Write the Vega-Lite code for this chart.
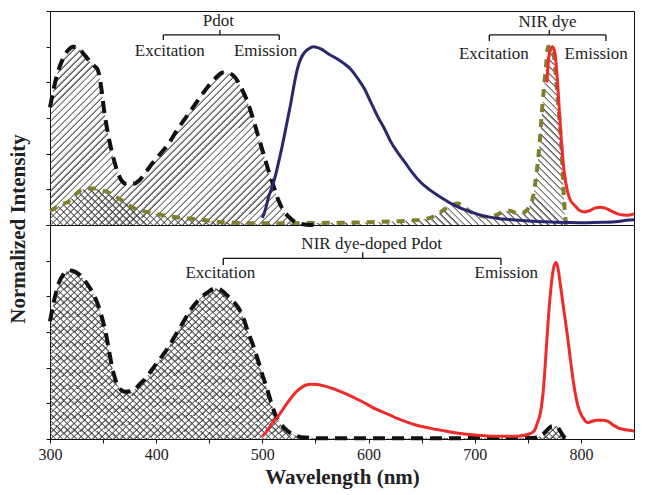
{
  "$schema": "https://vega.github.io/schema/vega-lite/v6.json",
  "padding": {"left": 7, "top": 10, "right": 5, "bottom": 5},
  "config": {
    "view": {"stroke": "#111", "strokeWidth": 1},
    "font": "Liberation Serif",
    "axis": {"domainColor": "#111", "tickColor": "#111", "labelColor": "#222", "labelFont": "Liberation Serif", "labelFontSize": 16, "titleFont": "Liberation Serif", "titleColor": "#222", "grid": false}
  },
  "data": {"values": [
    {"p":"top","s":"pdot_ex","wl":300,"v":0.66},{"p":"top","s":"pdot_ex","wl":303,"v":0.75},{"p":"top","s":"pdot_ex","wl":307,"v":0.85},{"p":"top","s":"pdot_ex","wl":312,"v":0.93},{"p":"top","s":"pdot_ex","wl":317,"v":0.98},{"p":"top","s":"pdot_ex","wl":322,"v":1.0},{"p":"top","s":"pdot_ex","wl":327,"v":0.99},{"p":"top","s":"pdot_ex","wl":333,"v":0.95},{"p":"top","s":"pdot_ex","wl":340,"v":0.9},{"p":"top","s":"pdot_ex","wl":345,"v":0.87},{"p":"top","s":"pdot_ex","wl":348,"v":0.78},{"p":"top","s":"pdot_ex","wl":351,"v":0.64},{"p":"top","s":"pdot_ex","wl":355,"v":0.5},{"p":"top","s":"pdot_ex","wl":360,"v":0.37},{"p":"top","s":"pdot_ex","wl":364,"v":0.29},{"p":"top","s":"pdot_ex","wl":368,"v":0.245},{"p":"top","s":"pdot_ex","wl":373,"v":0.228},{"p":"top","s":"pdot_ex","wl":378,"v":0.23},{"p":"top","s":"pdot_ex","wl":384,"v":0.25},{"p":"top","s":"pdot_ex","wl":390,"v":0.295},{"p":"top","s":"pdot_ex","wl":397,"v":0.35},{"p":"top","s":"pdot_ex","wl":404,"v":0.4},{"p":"top","s":"pdot_ex","wl":411,"v":0.45},{"p":"top","s":"pdot_ex","wl":420,"v":0.535},{"p":"top","s":"pdot_ex","wl":430,"v":0.62},{"p":"top","s":"pdot_ex","wl":440,"v":0.705},{"p":"top","s":"pdot_ex","wl":448,"v":0.77},{"p":"top","s":"pdot_ex","wl":456,"v":0.825},{"p":"top","s":"pdot_ex","wl":463,"v":0.855},{"p":"top","s":"pdot_ex","wl":468,"v":0.852},{"p":"top","s":"pdot_ex","wl":474,"v":0.83},{"p":"top","s":"pdot_ex","wl":480,"v":0.77},{"p":"top","s":"pdot_ex","wl":486,"v":0.69},{"p":"top","s":"pdot_ex","wl":491,"v":0.6},{"p":"top","s":"pdot_ex","wl":496,"v":0.5},{"p":"top","s":"pdot_ex","wl":501,"v":0.4},{"p":"top","s":"pdot_ex","wl":506,"v":0.3},{"p":"top","s":"pdot_ex","wl":511,"v":0.21},{"p":"top","s":"pdot_ex","wl":515,"v":0.14},{"p":"top","s":"pdot_ex","wl":520,"v":0.08},{"p":"top","s":"pdot_ex","wl":525,"v":0.045},{"p":"top","s":"pdot_ex","wl":530,"v":0.02},{"p":"top","s":"pdot_ex","wl":537,"v":0.006},{"p":"top","s":"pdot_ex","wl":545,"v":0},{"p":"top","s":"pdot_ex","wl":555,"v":0},{"p":"top","s":"pdot_ex","wl":786,"v":0},
    {"p":"top","s":"nir_ex","wl":300,"v":0.08},{"p":"top","s":"nir_ex","wl":305,"v":0.095},{"p":"top","s":"nir_ex","wl":310,"v":0.115},{"p":"top","s":"nir_ex","wl":317,"v":0.13},{"p":"top","s":"nir_ex","wl":323,"v":0.165},{"p":"top","s":"nir_ex","wl":329,"v":0.195},{"p":"top","s":"nir_ex","wl":336,"v":0.205},{"p":"top","s":"nir_ex","wl":342,"v":0.205},{"p":"top","s":"nir_ex","wl":348,"v":0.195},{"p":"top","s":"nir_ex","wl":354,"v":0.185},{"p":"top","s":"nir_ex","wl":360,"v":0.165},{"p":"top","s":"nir_ex","wl":367,"v":0.14},{"p":"top","s":"nir_ex","wl":373,"v":0.115},{"p":"top","s":"nir_ex","wl":379,"v":0.095},{"p":"top","s":"nir_ex","wl":388,"v":0.078},{"p":"top","s":"nir_ex","wl":398,"v":0.064},{"p":"top","s":"nir_ex","wl":407,"v":0.054},{"p":"top","s":"nir_ex","wl":417,"v":0.045},{"p":"top","s":"nir_ex","wl":427,"v":0.038},{"p":"top","s":"nir_ex","wl":436,"v":0.034},{"p":"top","s":"nir_ex","wl":445,"v":0.028},{"p":"top","s":"nir_ex","wl":455,"v":0.02},{"p":"top","s":"nir_ex","wl":470,"v":0.014},{"p":"top","s":"nir_ex","wl":490,"v":0.01},{"p":"top","s":"nir_ex","wl":520,"v":0.01},{"p":"top","s":"nir_ex","wl":560,"v":0.012},{"p":"top","s":"nir_ex","wl":600,"v":0.015},{"p":"top","s":"nir_ex","wl":620,"v":0.02},{"p":"top","s":"nir_ex","wl":640,"v":0.025},{"p":"top","s":"nir_ex","wl":655,"v":0.035},{"p":"top","s":"nir_ex","wl":665,"v":0.06},{"p":"top","s":"nir_ex","wl":672,"v":0.09},{"p":"top","s":"nir_ex","wl":678,"v":0.11},{"p":"top","s":"nir_ex","wl":684,"v":0.12},{"p":"top","s":"nir_ex","wl":690,"v":0.1},{"p":"top","s":"nir_ex","wl":696,"v":0.075},{"p":"top","s":"nir_ex","wl":704,"v":0.055},{"p":"top","s":"nir_ex","wl":712,"v":0.045},{"p":"top","s":"nir_ex","wl":720,"v":0.055},{"p":"top","s":"nir_ex","wl":727,"v":0.075},{"p":"top","s":"nir_ex","wl":733,"v":0.08},{"p":"top","s":"nir_ex","wl":740,"v":0.065},{"p":"top","s":"nir_ex","wl":746,"v":0.07},{"p":"top","s":"nir_ex","wl":751,"v":0.1},{"p":"top","s":"nir_ex","wl":755,"v":0.16},{"p":"top","s":"nir_ex","wl":758,"v":0.28},{"p":"top","s":"nir_ex","wl":761,"v":0.45},{"p":"top","s":"nir_ex","wl":764,"v":0.69},{"p":"top","s":"nir_ex","wl":767,"v":0.88},{"p":"top","s":"nir_ex","wl":769,"v":1.0},{"p":"top","s":"nir_ex","wl":771,"v":1.0},{"p":"top","s":"nir_ex","wl":773.5,"v":0.99},{"p":"top","s":"nir_ex","wl":776,"v":0.86},{"p":"top","s":"nir_ex","wl":778,"v":0.72},{"p":"top","s":"nir_ex","wl":780,"v":0.58},{"p":"top","s":"nir_ex","wl":782,"v":0.4},{"p":"top","s":"nir_ex","wl":784,"v":0.15},{"p":"top","s":"nir_ex","wl":786,"v":0},
    {"p":"top","s":"pdot_em","wl":500,"v":0.04},{"p":"top","s":"pdot_em","wl":503,"v":0.09},{"p":"top","s":"pdot_em","wl":506,"v":0.16},{"p":"top","s":"pdot_em","wl":509,"v":0.21},{"p":"top","s":"pdot_em","wl":512,"v":0.27},{"p":"top","s":"pdot_em","wl":516,"v":0.37},{"p":"top","s":"pdot_em","wl":520,"v":0.48},{"p":"top","s":"pdot_em","wl":524,"v":0.6},{"p":"top","s":"pdot_em","wl":527,"v":0.69},{"p":"top","s":"pdot_em","wl":530,"v":0.79},{"p":"top","s":"pdot_em","wl":533,"v":0.875},{"p":"top","s":"pdot_em","wl":536,"v":0.93},{"p":"top","s":"pdot_em","wl":540,"v":0.97},{"p":"top","s":"pdot_em","wl":544,"v":0.99},{"p":"top","s":"pdot_em","wl":548,"v":1.0},{"p":"top","s":"pdot_em","wl":552,"v":0.995},{"p":"top","s":"pdot_em","wl":556,"v":0.985},{"p":"top","s":"pdot_em","wl":562,"v":0.96},{"p":"top","s":"pdot_em","wl":571,"v":0.93},{"p":"top","s":"pdot_em","wl":577,"v":0.905},{"p":"top","s":"pdot_em","wl":583,"v":0.875},{"p":"top","s":"pdot_em","wl":590,"v":0.82},{"p":"top","s":"pdot_em","wl":596,"v":0.765},{"p":"top","s":"pdot_em","wl":602,"v":0.69},{"p":"top","s":"pdot_em","wl":608,"v":0.615},{"p":"top","s":"pdot_em","wl":615,"v":0.54},{"p":"top","s":"pdot_em","wl":621,"v":0.466},{"p":"top","s":"pdot_em","wl":627,"v":0.41},{"p":"top","s":"pdot_em","wl":634,"v":0.354},{"p":"top","s":"pdot_em","wl":641,"v":0.295},{"p":"top","s":"pdot_em","wl":649,"v":0.24},{"p":"top","s":"pdot_em","wl":657,"v":0.2},{"p":"top","s":"pdot_em","wl":665,"v":0.167},{"p":"top","s":"pdot_em","wl":673,"v":0.137},{"p":"top","s":"pdot_em","wl":681,"v":0.11},{"p":"top","s":"pdot_em","wl":688,"v":0.092},{"p":"top","s":"pdot_em","wl":696,"v":0.074},{"p":"top","s":"pdot_em","wl":704,"v":0.058},{"p":"top","s":"pdot_em","wl":712,"v":0.047},{"p":"top","s":"pdot_em","wl":722,"v":0.037},{"p":"top","s":"pdot_em","wl":732,"v":0.031},{"p":"top","s":"pdot_em","wl":743,"v":0.026},{"p":"top","s":"pdot_em","wl":755,"v":0.021},{"p":"top","s":"pdot_em","wl":765,"v":0.018},{"p":"top","s":"pdot_em","wl":775,"v":0.016},{"p":"top","s":"pdot_em","wl":790,"v":0.014},{"p":"top","s":"pdot_em","wl":806,"v":0.013},{"p":"top","s":"pdot_em","wl":820,"v":0.015},{"p":"top","s":"pdot_em","wl":835,"v":0.02},{"p":"top","s":"pdot_em","wl":845,"v":0.028},{"p":"top","s":"pdot_em","wl":850,"v":0.03},
    {"p":"top","s":"nir_em","wl":768,"v":0.8},{"p":"top","s":"nir_em","wl":770,"v":0.95},{"p":"top","s":"nir_em","wl":773,"v":1.0},{"p":"top","s":"nir_em","wl":775,"v":0.98},{"p":"top","s":"nir_em","wl":777,"v":0.88},{"p":"top","s":"nir_em","wl":778,"v":0.8},{"p":"top","s":"nir_em","wl":781,"v":0.52},{"p":"top","s":"nir_em","wl":784,"v":0.31},{"p":"top","s":"nir_em","wl":787.5,"v":0.185},{"p":"top","s":"nir_em","wl":790,"v":0.14},{"p":"top","s":"nir_em","wl":794,"v":0.11},{"p":"top","s":"nir_em","wl":798,"v":0.085},{"p":"top","s":"nir_em","wl":803,"v":0.073},{"p":"top","s":"nir_em","wl":808,"v":0.08},{"p":"top","s":"nir_em","wl":813,"v":0.095},{"p":"top","s":"nir_em","wl":818,"v":0.1},{"p":"top","s":"nir_em","wl":823,"v":0.095},{"p":"top","s":"nir_em","wl":828,"v":0.08},{"p":"top","s":"nir_em","wl":834,"v":0.064},{"p":"top","s":"nir_em","wl":840,"v":0.056},{"p":"top","s":"nir_em","wl":845,"v":0.055},{"p":"top","s":"nir_em","wl":850,"v":0.062},
    {"p":"bottom","s":"doped_ex","wl":300,"v":0.66},{"p":"bottom","s":"doped_ex","wl":304,"v":0.78},{"p":"bottom","s":"doped_ex","wl":308,"v":0.87},{"p":"bottom","s":"doped_ex","wl":313,"v":0.925},{"p":"bottom","s":"doped_ex","wl":318,"v":0.945},{"p":"bottom","s":"doped_ex","wl":323,"v":0.94},{"p":"bottom","s":"doped_ex","wl":329,"v":0.915},{"p":"bottom","s":"doped_ex","wl":335,"v":0.87},{"p":"bottom","s":"doped_ex","wl":341,"v":0.81},{"p":"bottom","s":"doped_ex","wl":346,"v":0.74},{"p":"bottom","s":"doped_ex","wl":349,"v":0.68},{"p":"bottom","s":"doped_ex","wl":353,"v":0.58},{"p":"bottom","s":"doped_ex","wl":356,"v":0.48},{"p":"bottom","s":"doped_ex","wl":359,"v":0.39},{"p":"bottom","s":"doped_ex","wl":363,"v":0.31},{"p":"bottom","s":"doped_ex","wl":367,"v":0.275},{"p":"bottom","s":"doped_ex","wl":371,"v":0.265},{"p":"bottom","s":"doped_ex","wl":376,"v":0.268},{"p":"bottom","s":"doped_ex","wl":380,"v":0.28},{"p":"bottom","s":"doped_ex","wl":385,"v":0.31},{"p":"bottom","s":"doped_ex","wl":390,"v":0.34},{"p":"bottom","s":"doped_ex","wl":395,"v":0.38},{"p":"bottom","s":"doped_ex","wl":403,"v":0.445},{"p":"bottom","s":"doped_ex","wl":411,"v":0.51},{"p":"bottom","s":"doped_ex","wl":418,"v":0.58},{"p":"bottom","s":"doped_ex","wl":425,"v":0.65},{"p":"bottom","s":"doped_ex","wl":432,"v":0.72},{"p":"bottom","s":"doped_ex","wl":440,"v":0.78},{"p":"bottom","s":"doped_ex","wl":448,"v":0.82},{"p":"bottom","s":"doped_ex","wl":456,"v":0.845},{"p":"bottom","s":"doped_ex","wl":461,"v":0.835},{"p":"bottom","s":"doped_ex","wl":466,"v":0.81},{"p":"bottom","s":"doped_ex","wl":471,"v":0.78},{"p":"bottom","s":"doped_ex","wl":477,"v":0.74},{"p":"bottom","s":"doped_ex","wl":482,"v":0.68},{"p":"bottom","s":"doped_ex","wl":486,"v":0.61},{"p":"bottom","s":"doped_ex","wl":491,"v":0.53},{"p":"bottom","s":"doped_ex","wl":496,"v":0.44},{"p":"bottom","s":"doped_ex","wl":500,"v":0.36},{"p":"bottom","s":"doped_ex","wl":504,"v":0.29},{"p":"bottom","s":"doped_ex","wl":508,"v":0.21},{"p":"bottom","s":"doped_ex","wl":512,"v":0.14},{"p":"bottom","s":"doped_ex","wl":516,"v":0.095},{"p":"bottom","s":"doped_ex","wl":521,"v":0.06},{"p":"bottom","s":"doped_ex","wl":526,"v":0.035},{"p":"bottom","s":"doped_ex","wl":532,"v":0.018},{"p":"bottom","s":"doped_ex","wl":540,"v":0.008},{"p":"bottom","s":"doped_ex","wl":560,"v":0.004},{"p":"bottom","s":"doped_ex","wl":600,"v":0.004},{"p":"bottom","s":"doped_ex","wl":650,"v":0.004},{"p":"bottom","s":"doped_ex","wl":700,"v":0.005},{"p":"bottom","s":"doped_ex","wl":750,"v":0.005},{"p":"bottom","s":"doped_ex","wl":760,"v":0.01},{"p":"bottom","s":"doped_ex","wl":765,"v":0.03},{"p":"bottom","s":"doped_ex","wl":769,"v":0.055},{"p":"bottom","s":"doped_ex","wl":773,"v":0.072},{"p":"bottom","s":"doped_ex","wl":777,"v":0.07},{"p":"bottom","s":"doped_ex","wl":780,"v":0.05},{"p":"bottom","s":"doped_ex","wl":783,"v":0.02},{"p":"bottom","s":"doped_ex","wl":786,"v":0},
    {"p":"bottom","s":"doped_em","wl":500,"v":0.015},{"p":"bottom","s":"doped_em","wl":505,"v":0.05},{"p":"bottom","s":"doped_em","wl":510,"v":0.095},{"p":"bottom","s":"doped_em","wl":514,"v":0.12},{"p":"bottom","s":"doped_em","wl":518,"v":0.155},{"p":"bottom","s":"doped_em","wl":522,"v":0.19},{"p":"bottom","s":"doped_em","wl":527,"v":0.23},{"p":"bottom","s":"doped_em","wl":532,"v":0.265},{"p":"bottom","s":"doped_em","wl":536,"v":0.285},{"p":"bottom","s":"doped_em","wl":540,"v":0.3},{"p":"bottom","s":"doped_em","wl":546,"v":0.307},{"p":"bottom","s":"doped_em","wl":552,"v":0.305},{"p":"bottom","s":"doped_em","wl":558,"v":0.298},{"p":"bottom","s":"doped_em","wl":565,"v":0.285},{"p":"bottom","s":"doped_em","wl":572,"v":0.27},{"p":"bottom","s":"doped_em","wl":580,"v":0.25},{"p":"bottom","s":"doped_em","wl":587,"v":0.23},{"p":"bottom","s":"doped_em","wl":593,"v":0.213},{"p":"bottom","s":"doped_em","wl":600,"v":0.19},{"p":"bottom","s":"doped_em","wl":606,"v":0.17},{"p":"bottom","s":"doped_em","wl":612,"v":0.155},{"p":"bottom","s":"doped_em","wl":620,"v":0.135},{"p":"bottom","s":"doped_em","wl":627,"v":0.115},{"p":"bottom","s":"doped_em","wl":634,"v":0.1},{"p":"bottom","s":"doped_em","wl":641,"v":0.085},{"p":"bottom","s":"doped_em","wl":648,"v":0.073},{"p":"bottom","s":"doped_em","wl":656,"v":0.063},{"p":"bottom","s":"doped_em","wl":664,"v":0.053},{"p":"bottom","s":"doped_em","wl":672,"v":0.045},{"p":"bottom","s":"doped_em","wl":681,"v":0.035},{"p":"bottom","s":"doped_em","wl":690,"v":0.028},{"p":"bottom","s":"doped_em","wl":700,"v":0.022},{"p":"bottom","s":"doped_em","wl":712,"v":0.017},{"p":"bottom","s":"doped_em","wl":725,"v":0.015},{"p":"bottom","s":"doped_em","wl":740,"v":0.016},{"p":"bottom","s":"doped_em","wl":750,"v":0.025},{"p":"bottom","s":"doped_em","wl":756,"v":0.045},{"p":"bottom","s":"doped_em","wl":759,"v":0.09},{"p":"bottom","s":"doped_em","wl":762,"v":0.15},{"p":"bottom","s":"doped_em","wl":765,"v":0.3},{"p":"bottom","s":"doped_em","wl":767,"v":0.47},{"p":"bottom","s":"doped_em","wl":769,"v":0.65},{"p":"bottom","s":"doped_em","wl":772,"v":0.86},{"p":"bottom","s":"doped_em","wl":774,"v":0.95},{"p":"bottom","s":"doped_em","wl":776.5,"v":0.99},{"p":"bottom","s":"doped_em","wl":778,"v":0.97},{"p":"bottom","s":"doped_em","wl":781,"v":0.85},{"p":"bottom","s":"doped_em","wl":784,"v":0.72},{"p":"bottom","s":"doped_em","wl":787.5,"v":0.57},{"p":"bottom","s":"doped_em","wl":790,"v":0.45},{"p":"bottom","s":"doped_em","wl":793.7,"v":0.29},{"p":"bottom","s":"doped_em","wl":797,"v":0.19},{"p":"bottom","s":"doped_em","wl":800,"v":0.14},{"p":"bottom","s":"doped_em","wl":803,"v":0.11},{"p":"bottom","s":"doped_em","wl":806,"v":0.092},{"p":"bottom","s":"doped_em","wl":810,"v":0.098},{"p":"bottom","s":"doped_em","wl":815,"v":0.105},{"p":"bottom","s":"doped_em","wl":820,"v":0.105},{"p":"bottom","s":"doped_em","wl":825,"v":0.1},{"p":"bottom","s":"doped_em","wl":830,"v":0.08},{"p":"bottom","s":"doped_em","wl":835,"v":0.063},{"p":"bottom","s":"doped_em","wl":842,"v":0.052},{"p":"bottom","s":"doped_em","wl":850,"v":0.045},
    {"p":"top","s":"bracket","wl":406.7,"wl2":515.9,"v":1.066,"v2":1.066},{"p":"top","s":"bracket","wl":406.7,"wl2":406.7,"v":1.066,"v2":1.037},{"p":"top","s":"bracket","wl":515.9,"wl2":515.9,"v":1.066,"v2":1.037},{"p":"top","s":"bracket","wl":460,"wl2":460,"v":1.066,"v2":1.094},
    {"p":"top","s":"bracket","wl":713.7,"wl2":823.6,"v":1.066,"v2":1.066},{"p":"top","s":"bracket","wl":713.7,"wl2":713.7,"v":1.066,"v2":1.032},{"p":"top","s":"bracket","wl":823.6,"wl2":823.6,"v":1.066,"v2":1.032},{"p":"top","s":"bracket","wl":770.2,"wl2":770.2,"v":1.066,"v2":1.094},
    {"p":"bottom","s":"bracket","wl":463.2,"wl2":724.7,"v":1.013,"v2":1.013},{"p":"bottom","s":"bracket","wl":463.2,"wl2":463.2,"v":1.013,"v2":0.976},{"p":"bottom","s":"bracket","wl":724.7,"wl2":724.7,"v":1.013,"v2":0.976},{"p":"bottom","s":"bracket","wl":594.5,"wl2":594.5,"v":1.013,"v2":1.047},
    {"p":"top","s":"text","wl":458.5,"v":1.144,"label":"Pdot"},{"p":"top","s":"text","wl":412.8,"v":0.976,"label":"Excitation"},{"p":"top","s":"text","wl":503,"v":0.976,"label":"Emission"},
    {"p":"top","s":"text","wl":768.6,"v":1.137,"label":"NIR dye"},{"p":"top","s":"text","wl":718,"v":0.957,"label":"Excitation"},{"p":"top","s":"text","wl":814.4,"v":0.957,"label":"Emission"},
    {"p":"bottom","s":"text","wl":603,"v":1.094,"label":"NIR dye-doped Pdot"},{"p":"bottom","s":"text","wl":460.4,"v":0.929,"label":"Excitation"},{"p":"bottom","s":"text","wl":729.7,"v":0.929,"label":"Emission"}
  ]},
  "facet": {"row": {"field": "p", "type": "nominal", "sort": ["top", "bottom"], "title": "Normalized Intensity", "header": {"labels": false, "labelPadding": 0, "titleFont": "Liberation Serif", "titleFontSize": 21, "titleFontWeight": "bold", "titleColor": "#222", "titlePadding": 6}}},
  "spacing": 0,
  "bounds": "flush",
  "spec": {
    "width": 584,
    "height": 214,
    "encoding": {
      "x": {"field": "wl", "type": "quantitative", "scale": {"domain": [300, 850], "nice": false}, "axis": {"title": "Wavelength (nm)", "values": [300, 350, 400, 450, 500, 550, 600, 650, 700, 750, 800], "labelExpr": "datum.value % 100 === 0 ? datum.label : ''", "labelFlush": false, "labelOverlap": false, "tickSize": 4, "labelPadding": 3, "titleFontSize": 21, "titleFontWeight": "bold", "titlePadding": 4}},
      "y": {"field": "v", "type": "quantitative", "scale": {"domain": [0, 1.2], "nice": false}, "axis": {"title": null, "labels": false, "values": [0, 0.2, 0.4, 0.6, 0.8, 1, 1.2], "tickSize": 4}}
    },
    "layer": [
      {"transform": [{"filter": "datum.s == 'pdot_ex' || datum.s == 'doped_ex'"}],
       "mark": {"type": "area", "interpolate": "monotone", "fill": {"gradient": "linear", "x1": 0, "y1": 0, "x2": 1.2, "y2": 0.415, "stops": [
{"offset":0,"color":"transparent"},{"offset":0.006,"color":"transparent"},{"offset":0.01,"color":"#555"},
{"offset":0.01,"color":"transparent"},{"offset":0.016,"color":"transparent"},{"offset":0.02,"color":"#555"},
{"offset":0.02,"color":"transparent"},{"offset":0.026,"color":"transparent"},{"offset":0.03,"color":"#555"},
{"offset":0.03,"color":"transparent"},{"offset":0.036,"color":"transparent"},{"offset":0.04,"color":"#555"},
{"offset":0.04,"color":"transparent"},{"offset":0.046,"color":"transparent"},{"offset":0.05,"color":"#555"},
{"offset":0.05,"color":"transparent"},{"offset":0.056,"color":"transparent"},{"offset":0.06,"color":"#555"},
{"offset":0.06,"color":"transparent"},{"offset":0.066,"color":"transparent"},{"offset":0.07,"color":"#555"},
{"offset":0.07,"color":"transparent"},{"offset":0.076,"color":"transparent"},{"offset":0.08,"color":"#555"},
{"offset":0.08,"color":"transparent"},{"offset":0.086,"color":"transparent"},{"offset":0.09,"color":"#555"},
{"offset":0.09,"color":"transparent"},{"offset":0.096,"color":"transparent"},{"offset":0.1,"color":"#555"},
{"offset":0.1,"color":"transparent"},{"offset":0.106,"color":"transparent"},{"offset":0.11,"color":"#555"},
{"offset":0.11,"color":"transparent"},{"offset":0.116,"color":"transparent"},{"offset":0.12,"color":"#555"},
{"offset":0.12,"color":"transparent"},{"offset":0.126,"color":"transparent"},{"offset":0.13,"color":"#555"},
{"offset":0.13,"color":"transparent"},{"offset":0.136,"color":"transparent"},{"offset":0.14,"color":"#555"},
{"offset":0.14,"color":"transparent"},{"offset":0.146,"color":"transparent"},{"offset":0.15,"color":"#555"},
{"offset":0.15,"color":"transparent"},{"offset":0.156,"color":"transparent"},{"offset":0.16,"color":"#555"},
{"offset":0.16,"color":"transparent"},{"offset":0.166,"color":"transparent"},{"offset":0.17,"color":"#555"},
{"offset":0.17,"color":"transparent"},{"offset":0.176,"color":"transparent"},{"offset":0.18,"color":"#555"},
{"offset":0.18,"color":"transparent"},{"offset":0.186,"color":"transparent"},{"offset":0.19,"color":"#555"},
{"offset":0.19,"color":"transparent"},{"offset":0.196,"color":"transparent"},{"offset":0.2,"color":"#555"},
{"offset":0.2,"color":"transparent"},{"offset":0.206,"color":"transparent"},{"offset":0.21,"color":"#555"},
{"offset":0.21,"color":"transparent"},{"offset":0.216,"color":"transparent"},{"offset":0.22,"color":"#555"},
{"offset":0.22,"color":"transparent"},{"offset":0.226,"color":"transparent"},{"offset":0.23,"color":"#555"},
{"offset":0.23,"color":"transparent"},{"offset":0.236,"color":"transparent"},{"offset":0.24,"color":"#555"},
{"offset":0.24,"color":"transparent"},{"offset":0.246,"color":"transparent"},{"offset":0.25,"color":"#555"},
{"offset":0.25,"color":"transparent"},{"offset":0.256,"color":"transparent"},{"offset":0.26,"color":"#555"},
{"offset":0.26,"color":"transparent"},{"offset":0.266,"color":"transparent"},{"offset":0.27,"color":"#555"},
{"offset":0.27,"color":"transparent"},{"offset":0.276,"color":"transparent"},{"offset":0.28,"color":"#555"},
{"offset":0.28,"color":"transparent"},{"offset":0.286,"color":"transparent"},{"offset":0.29,"color":"#555"},
{"offset":0.29,"color":"transparent"},{"offset":0.296,"color":"transparent"},{"offset":0.3,"color":"#555"},
{"offset":0.3,"color":"transparent"},{"offset":0.306,"color":"transparent"},{"offset":0.31,"color":"#555"},
{"offset":0.31,"color":"transparent"},{"offset":0.316,"color":"transparent"},{"offset":0.32,"color":"#555"},
{"offset":0.32,"color":"transparent"},{"offset":0.326,"color":"transparent"},{"offset":0.33,"color":"#555"},
{"offset":0.33,"color":"transparent"},{"offset":0.336,"color":"transparent"},{"offset":0.34,"color":"#555"},
{"offset":0.34,"color":"transparent"},{"offset":0.346,"color":"transparent"},{"offset":0.35,"color":"#555"},
{"offset":0.35,"color":"transparent"},{"offset":0.356,"color":"transparent"},{"offset":0.36,"color":"#555"},
{"offset":0.36,"color":"transparent"},{"offset":0.366,"color":"transparent"},{"offset":0.37,"color":"#555"},
{"offset":0.37,"color":"transparent"},{"offset":0.376,"color":"transparent"},{"offset":0.38,"color":"#555"},
{"offset":0.38,"color":"transparent"},{"offset":0.386,"color":"transparent"},{"offset":0.39,"color":"#555"},
{"offset":0.39,"color":"transparent"},{"offset":0.396,"color":"transparent"},{"offset":0.4,"color":"#555"},
{"offset":0.4,"color":"transparent"},{"offset":0.406,"color":"transparent"},{"offset":0.41,"color":"#555"},
{"offset":0.41,"color":"transparent"},{"offset":0.416,"color":"transparent"},{"offset":0.42,"color":"#555"},
{"offset":0.42,"color":"transparent"},{"offset":0.426,"color":"transparent"},{"offset":0.43,"color":"#555"},
{"offset":0.43,"color":"transparent"},{"offset":0.436,"color":"transparent"},{"offset":0.44,"color":"#555"},
{"offset":0.44,"color":"transparent"},{"offset":0.446,"color":"transparent"},{"offset":0.45,"color":"#555"},
{"offset":0.45,"color":"transparent"},{"offset":0.456,"color":"transparent"},{"offset":0.46,"color":"#555"},
{"offset":0.46,"color":"transparent"},{"offset":0.466,"color":"transparent"},{"offset":0.47,"color":"#555"},
{"offset":0.47,"color":"transparent"},{"offset":0.476,"color":"transparent"},{"offset":0.48,"color":"#555"},
{"offset":0.48,"color":"transparent"},{"offset":0.486,"color":"transparent"},{"offset":0.49,"color":"#555"},
{"offset":0.49,"color":"transparent"},{"offset":0.496,"color":"transparent"},{"offset":0.5,"color":"#555"},
{"offset":0.5,"color":"transparent"},{"offset":0.506,"color":"transparent"},{"offset":0.51,"color":"#555"},
{"offset":0.51,"color":"transparent"},{"offset":0.516,"color":"transparent"},{"offset":0.52,"color":"#555"},
{"offset":0.52,"color":"transparent"},{"offset":0.526,"color":"transparent"},{"offset":0.53,"color":"#555"},
{"offset":0.53,"color":"transparent"},{"offset":0.536,"color":"transparent"},{"offset":0.54,"color":"#555"},
{"offset":0.54,"color":"transparent"},{"offset":0.546,"color":"transparent"},{"offset":0.55,"color":"#555"},
{"offset":0.55,"color":"transparent"},{"offset":0.556,"color":"transparent"},{"offset":0.56,"color":"#555"},
{"offset":0.56,"color":"transparent"},{"offset":0.566,"color":"transparent"},{"offset":0.57,"color":"#555"},
{"offset":0.57,"color":"transparent"},{"offset":0.576,"color":"transparent"},{"offset":0.58,"color":"#555"},
{"offset":0.58,"color":"transparent"},{"offset":0.586,"color":"transparent"},{"offset":0.59,"color":"#555"},
{"offset":0.59,"color":"transparent"},{"offset":0.596,"color":"transparent"},{"offset":0.6,"color":"#555"},
{"offset":0.6,"color":"transparent"},{"offset":0.606,"color":"transparent"},{"offset":0.61,"color":"#555"},
{"offset":0.61,"color":"transparent"},{"offset":0.616,"color":"transparent"},{"offset":0.62,"color":"#555"},
{"offset":0.62,"color":"transparent"},{"offset":0.626,"color":"transparent"},{"offset":0.63,"color":"#555"},
{"offset":0.63,"color":"transparent"},{"offset":0.636,"color":"transparent"},{"offset":0.64,"color":"#555"},
{"offset":0.64,"color":"transparent"},{"offset":0.646,"color":"transparent"},{"offset":0.65,"color":"#555"},
{"offset":0.65,"color":"transparent"},{"offset":0.656,"color":"transparent"},{"offset":0.66,"color":"#555"},
{"offset":0.66,"color":"transparent"},{"offset":0.666,"color":"transparent"},{"offset":0.67,"color":"#555"},
{"offset":0.67,"color":"transparent"},{"offset":0.676,"color":"transparent"},{"offset":0.68,"color":"#555"},
{"offset":0.68,"color":"transparent"},{"offset":0.686,"color":"transparent"},{"offset":0.69,"color":"#555"},
{"offset":0.69,"color":"transparent"},{"offset":0.696,"color":"transparent"},{"offset":0.7,"color":"#555"},
{"offset":0.7,"color":"transparent"},{"offset":0.706,"color":"transparent"},{"offset":0.71,"color":"#555"},
{"offset":0.71,"color":"transparent"},{"offset":0.716,"color":"transparent"},{"offset":0.72,"color":"#555"},
{"offset":0.72,"color":"transparent"},{"offset":0.726,"color":"transparent"},{"offset":0.73,"color":"#555"},
{"offset":0.73,"color":"transparent"},{"offset":0.736,"color":"transparent"},{"offset":0.74,"color":"#555"},
{"offset":0.74,"color":"transparent"},{"offset":0.746,"color":"transparent"},{"offset":0.75,"color":"#555"},
{"offset":0.75,"color":"transparent"},{"offset":0.756,"color":"transparent"},{"offset":0.76,"color":"#555"},
{"offset":0.76,"color":"transparent"},{"offset":0.766,"color":"transparent"},{"offset":0.77,"color":"#555"},
{"offset":0.77,"color":"transparent"},{"offset":0.776,"color":"transparent"},{"offset":0.78,"color":"#555"},
{"offset":0.78,"color":"transparent"},{"offset":0.786,"color":"transparent"},{"offset":0.79,"color":"#555"},
{"offset":0.79,"color":"transparent"},{"offset":0.796,"color":"transparent"},{"offset":0.8,"color":"#555"},
{"offset":0.8,"color":"transparent"},{"offset":0.806,"color":"transparent"},{"offset":0.81,"color":"#555"},
{"offset":0.81,"color":"transparent"},{"offset":0.816,"color":"transparent"},{"offset":0.82,"color":"#555"},
{"offset":0.82,"color":"transparent"},{"offset":0.826,"color":"transparent"},{"offset":0.83,"color":"#555"},
{"offset":0.83,"color":"transparent"},{"offset":0.836,"color":"transparent"},{"offset":0.84,"color":"#555"},
{"offset":0.84,"color":"transparent"},{"offset":0.846,"color":"transparent"},{"offset":0.85,"color":"#555"},
{"offset":0.85,"color":"transparent"},{"offset":0.856,"color":"transparent"},{"offset":0.86,"color":"#555"},
{"offset":0.86,"color":"transparent"},{"offset":0.866,"color":"transparent"},{"offset":0.87,"color":"#555"},
{"offset":0.87,"color":"transparent"},{"offset":0.876,"color":"transparent"},{"offset":0.88,"color":"#555"},
{"offset":0.88,"color":"transparent"},{"offset":0.886,"color":"transparent"},{"offset":0.89,"color":"#555"},
{"offset":0.89,"color":"transparent"},{"offset":0.896,"color":"transparent"},{"offset":0.9,"color":"#555"},
{"offset":0.9,"color":"transparent"},{"offset":0.906,"color":"transparent"},{"offset":0.91,"color":"#555"},
{"offset":0.91,"color":"transparent"},{"offset":0.916,"color":"transparent"},{"offset":0.92,"color":"#555"},
{"offset":0.92,"color":"transparent"},{"offset":0.926,"color":"transparent"},{"offset":0.93,"color":"#555"},
{"offset":0.93,"color":"transparent"},{"offset":0.936,"color":"transparent"},{"offset":0.94,"color":"#555"},
{"offset":0.94,"color":"transparent"},{"offset":0.946,"color":"transparent"},{"offset":0.95,"color":"#555"},
{"offset":0.95,"color":"transparent"},{"offset":0.956,"color":"transparent"},{"offset":0.96,"color":"#555"},
{"offset":0.96,"color":"transparent"},{"offset":0.966,"color":"transparent"},{"offset":0.97,"color":"#555"},
{"offset":0.97,"color":"transparent"},{"offset":0.976,"color":"transparent"},{"offset":0.98,"color":"#555"},
{"offset":0.98,"color":"transparent"},{"offset":0.986,"color":"transparent"},{"offset":0.99,"color":"#555"},
{"offset":0.99,"color":"transparent"},{"offset":0.996,"color":"transparent"},{"offset":1,"color":"#555"}
       ]}}},
      {"transform": [{"filter": "datum.s == 'nir_ex' || datum.s == 'doped_ex'"}],
       "mark": {"type": "area", "interpolate": "monotone", "fill": {"gradient": "linear", "x1": 0, "y1": 1, "x2": 1.2, "y2": 0.585, "stops": [
{"offset":0,"color":"transparent"},{"offset":0.006,"color":"transparent"},{"offset":0.01,"color":"#555"},
{"offset":0.01,"color":"transparent"},{"offset":0.016,"color":"transparent"},{"offset":0.02,"color":"#555"},
{"offset":0.02,"color":"transparent"},{"offset":0.026,"color":"transparent"},{"offset":0.03,"color":"#555"},
{"offset":0.03,"color":"transparent"},{"offset":0.036,"color":"transparent"},{"offset":0.04,"color":"#555"},
{"offset":0.04,"color":"transparent"},{"offset":0.046,"color":"transparent"},{"offset":0.05,"color":"#555"},
{"offset":0.05,"color":"transparent"},{"offset":0.056,"color":"transparent"},{"offset":0.06,"color":"#555"},
{"offset":0.06,"color":"transparent"},{"offset":0.066,"color":"transparent"},{"offset":0.07,"color":"#555"},
{"offset":0.07,"color":"transparent"},{"offset":0.076,"color":"transparent"},{"offset":0.08,"color":"#555"},
{"offset":0.08,"color":"transparent"},{"offset":0.086,"color":"transparent"},{"offset":0.09,"color":"#555"},
{"offset":0.09,"color":"transparent"},{"offset":0.096,"color":"transparent"},{"offset":0.1,"color":"#555"},
{"offset":0.1,"color":"transparent"},{"offset":0.106,"color":"transparent"},{"offset":0.11,"color":"#555"},
{"offset":0.11,"color":"transparent"},{"offset":0.116,"color":"transparent"},{"offset":0.12,"color":"#555"},
{"offset":0.12,"color":"transparent"},{"offset":0.126,"color":"transparent"},{"offset":0.13,"color":"#555"},
{"offset":0.13,"color":"transparent"},{"offset":0.136,"color":"transparent"},{"offset":0.14,"color":"#555"},
{"offset":0.14,"color":"transparent"},{"offset":0.146,"color":"transparent"},{"offset":0.15,"color":"#555"},
{"offset":0.15,"color":"transparent"},{"offset":0.156,"color":"transparent"},{"offset":0.16,"color":"#555"},
{"offset":0.16,"color":"transparent"},{"offset":0.166,"color":"transparent"},{"offset":0.17,"color":"#555"},
{"offset":0.17,"color":"transparent"},{"offset":0.176,"color":"transparent"},{"offset":0.18,"color":"#555"},
{"offset":0.18,"color":"transparent"},{"offset":0.186,"color":"transparent"},{"offset":0.19,"color":"#555"},
{"offset":0.19,"color":"transparent"},{"offset":0.196,"color":"transparent"},{"offset":0.2,"color":"#555"},
{"offset":0.2,"color":"transparent"},{"offset":0.206,"color":"transparent"},{"offset":0.21,"color":"#555"},
{"offset":0.21,"color":"transparent"},{"offset":0.216,"color":"transparent"},{"offset":0.22,"color":"#555"},
{"offset":0.22,"color":"transparent"},{"offset":0.226,"color":"transparent"},{"offset":0.23,"color":"#555"},
{"offset":0.23,"color":"transparent"},{"offset":0.236,"color":"transparent"},{"offset":0.24,"color":"#555"},
{"offset":0.24,"color":"transparent"},{"offset":0.246,"color":"transparent"},{"offset":0.25,"color":"#555"},
{"offset":0.25,"color":"transparent"},{"offset":0.256,"color":"transparent"},{"offset":0.26,"color":"#555"},
{"offset":0.26,"color":"transparent"},{"offset":0.266,"color":"transparent"},{"offset":0.27,"color":"#555"},
{"offset":0.27,"color":"transparent"},{"offset":0.276,"color":"transparent"},{"offset":0.28,"color":"#555"},
{"offset":0.28,"color":"transparent"},{"offset":0.286,"color":"transparent"},{"offset":0.29,"color":"#555"},
{"offset":0.29,"color":"transparent"},{"offset":0.296,"color":"transparent"},{"offset":0.3,"color":"#555"},
{"offset":0.3,"color":"transparent"},{"offset":0.306,"color":"transparent"},{"offset":0.31,"color":"#555"},
{"offset":0.31,"color":"transparent"},{"offset":0.316,"color":"transparent"},{"offset":0.32,"color":"#555"},
{"offset":0.32,"color":"transparent"},{"offset":0.326,"color":"transparent"},{"offset":0.33,"color":"#555"},
{"offset":0.33,"color":"transparent"},{"offset":0.336,"color":"transparent"},{"offset":0.34,"color":"#555"},
{"offset":0.34,"color":"transparent"},{"offset":0.346,"color":"transparent"},{"offset":0.35,"color":"#555"},
{"offset":0.35,"color":"transparent"},{"offset":0.356,"color":"transparent"},{"offset":0.36,"color":"#555"},
{"offset":0.36,"color":"transparent"},{"offset":0.366,"color":"transparent"},{"offset":0.37,"color":"#555"},
{"offset":0.37,"color":"transparent"},{"offset":0.376,"color":"transparent"},{"offset":0.38,"color":"#555"},
{"offset":0.38,"color":"transparent"},{"offset":0.386,"color":"transparent"},{"offset":0.39,"color":"#555"},
{"offset":0.39,"color":"transparent"},{"offset":0.396,"color":"transparent"},{"offset":0.4,"color":"#555"},
{"offset":0.4,"color":"transparent"},{"offset":0.406,"color":"transparent"},{"offset":0.41,"color":"#555"},
{"offset":0.41,"color":"transparent"},{"offset":0.416,"color":"transparent"},{"offset":0.42,"color":"#555"},
{"offset":0.42,"color":"transparent"},{"offset":0.426,"color":"transparent"},{"offset":0.43,"color":"#555"},
{"offset":0.43,"color":"transparent"},{"offset":0.436,"color":"transparent"},{"offset":0.44,"color":"#555"},
{"offset":0.44,"color":"transparent"},{"offset":0.446,"color":"transparent"},{"offset":0.45,"color":"#555"},
{"offset":0.45,"color":"transparent"},{"offset":0.456,"color":"transparent"},{"offset":0.46,"color":"#555"},
{"offset":0.46,"color":"transparent"},{"offset":0.466,"color":"transparent"},{"offset":0.47,"color":"#555"},
{"offset":0.47,"color":"transparent"},{"offset":0.476,"color":"transparent"},{"offset":0.48,"color":"#555"},
{"offset":0.48,"color":"transparent"},{"offset":0.486,"color":"transparent"},{"offset":0.49,"color":"#555"},
{"offset":0.49,"color":"transparent"},{"offset":0.496,"color":"transparent"},{"offset":0.5,"color":"#555"},
{"offset":0.5,"color":"transparent"},{"offset":0.506,"color":"transparent"},{"offset":0.51,"color":"#555"},
{"offset":0.51,"color":"transparent"},{"offset":0.516,"color":"transparent"},{"offset":0.52,"color":"#555"},
{"offset":0.52,"color":"transparent"},{"offset":0.526,"color":"transparent"},{"offset":0.53,"color":"#555"},
{"offset":0.53,"color":"transparent"},{"offset":0.536,"color":"transparent"},{"offset":0.54,"color":"#555"},
{"offset":0.54,"color":"transparent"},{"offset":0.546,"color":"transparent"},{"offset":0.55,"color":"#555"},
{"offset":0.55,"color":"transparent"},{"offset":0.556,"color":"transparent"},{"offset":0.56,"color":"#555"},
{"offset":0.56,"color":"transparent"},{"offset":0.566,"color":"transparent"},{"offset":0.57,"color":"#555"},
{"offset":0.57,"color":"transparent"},{"offset":0.576,"color":"transparent"},{"offset":0.58,"color":"#555"},
{"offset":0.58,"color":"transparent"},{"offset":0.586,"color":"transparent"},{"offset":0.59,"color":"#555"},
{"offset":0.59,"color":"transparent"},{"offset":0.596,"color":"transparent"},{"offset":0.6,"color":"#555"},
{"offset":0.6,"color":"transparent"},{"offset":0.606,"color":"transparent"},{"offset":0.61,"color":"#555"},
{"offset":0.61,"color":"transparent"},{"offset":0.616,"color":"transparent"},{"offset":0.62,"color":"#555"},
{"offset":0.62,"color":"transparent"},{"offset":0.626,"color":"transparent"},{"offset":0.63,"color":"#555"},
{"offset":0.63,"color":"transparent"},{"offset":0.636,"color":"transparent"},{"offset":0.64,"color":"#555"},
{"offset":0.64,"color":"transparent"},{"offset":0.646,"color":"transparent"},{"offset":0.65,"color":"#555"},
{"offset":0.65,"color":"transparent"},{"offset":0.656,"color":"transparent"},{"offset":0.66,"color":"#555"},
{"offset":0.66,"color":"transparent"},{"offset":0.666,"color":"transparent"},{"offset":0.67,"color":"#555"},
{"offset":0.67,"color":"transparent"},{"offset":0.676,"color":"transparent"},{"offset":0.68,"color":"#555"},
{"offset":0.68,"color":"transparent"},{"offset":0.686,"color":"transparent"},{"offset":0.69,"color":"#555"},
{"offset":0.69,"color":"transparent"},{"offset":0.696,"color":"transparent"},{"offset":0.7,"color":"#555"},
{"offset":0.7,"color":"transparent"},{"offset":0.706,"color":"transparent"},{"offset":0.71,"color":"#555"},
{"offset":0.71,"color":"transparent"},{"offset":0.716,"color":"transparent"},{"offset":0.72,"color":"#555"},
{"offset":0.72,"color":"transparent"},{"offset":0.726,"color":"transparent"},{"offset":0.73,"color":"#555"},
{"offset":0.73,"color":"transparent"},{"offset":0.736,"color":"transparent"},{"offset":0.74,"color":"#555"},
{"offset":0.74,"color":"transparent"},{"offset":0.746,"color":"transparent"},{"offset":0.75,"color":"#555"},
{"offset":0.75,"color":"transparent"},{"offset":0.756,"color":"transparent"},{"offset":0.76,"color":"#555"},
{"offset":0.76,"color":"transparent"},{"offset":0.766,"color":"transparent"},{"offset":0.77,"color":"#555"},
{"offset":0.77,"color":"transparent"},{"offset":0.776,"color":"transparent"},{"offset":0.78,"color":"#555"},
{"offset":0.78,"color":"transparent"},{"offset":0.786,"color":"transparent"},{"offset":0.79,"color":"#555"},
{"offset":0.79,"color":"transparent"},{"offset":0.796,"color":"transparent"},{"offset":0.8,"color":"#555"},
{"offset":0.8,"color":"transparent"},{"offset":0.806,"color":"transparent"},{"offset":0.81,"color":"#555"},
{"offset":0.81,"color":"transparent"},{"offset":0.816,"color":"transparent"},{"offset":0.82,"color":"#555"},
{"offset":0.82,"color":"transparent"},{"offset":0.826,"color":"transparent"},{"offset":0.83,"color":"#555"},
{"offset":0.83,"color":"transparent"},{"offset":0.836,"color":"transparent"},{"offset":0.84,"color":"#555"},
{"offset":0.84,"color":"transparent"},{"offset":0.846,"color":"transparent"},{"offset":0.85,"color":"#555"},
{"offset":0.85,"color":"transparent"},{"offset":0.856,"color":"transparent"},{"offset":0.86,"color":"#555"},
{"offset":0.86,"color":"transparent"},{"offset":0.866,"color":"transparent"},{"offset":0.87,"color":"#555"},
{"offset":0.87,"color":"transparent"},{"offset":0.876,"color":"transparent"},{"offset":0.88,"color":"#555"},
{"offset":0.88,"color":"transparent"},{"offset":0.886,"color":"transparent"},{"offset":0.89,"color":"#555"},
{"offset":0.89,"color":"transparent"},{"offset":0.896,"color":"transparent"},{"offset":0.9,"color":"#555"},
{"offset":0.9,"color":"transparent"},{"offset":0.906,"color":"transparent"},{"offset":0.91,"color":"#555"},
{"offset":0.91,"color":"transparent"},{"offset":0.916,"color":"transparent"},{"offset":0.92,"color":"#555"},
{"offset":0.92,"color":"transparent"},{"offset":0.926,"color":"transparent"},{"offset":0.93,"color":"#555"},
{"offset":0.93,"color":"transparent"},{"offset":0.936,"color":"transparent"},{"offset":0.94,"color":"#555"},
{"offset":0.94,"color":"transparent"},{"offset":0.946,"color":"transparent"},{"offset":0.95,"color":"#555"},
{"offset":0.95,"color":"transparent"},{"offset":0.956,"color":"transparent"},{"offset":0.96,"color":"#555"},
{"offset":0.96,"color":"transparent"},{"offset":0.966,"color":"transparent"},{"offset":0.97,"color":"#555"},
{"offset":0.97,"color":"transparent"},{"offset":0.976,"color":"transparent"},{"offset":0.98,"color":"#555"},
{"offset":0.98,"color":"transparent"},{"offset":0.986,"color":"transparent"},{"offset":0.99,"color":"#555"},
{"offset":0.99,"color":"transparent"},{"offset":0.996,"color":"transparent"},{"offset":1,"color":"#555"}
       ]}}},
      {"transform": [{"filter": "datum.s == 'nir_ex'"}],
       "mark": {"type": "line", "interpolate": "monotone", "color": "#7f7f2e", "strokeWidth": 4, "strokeDash": [8, 7]}},
      {"transform": [{"filter": "(datum.s == 'pdot_ex' && datum.wl <= 555) || datum.s == 'doped_ex'"}],
       "mark": {"type": "line", "interpolate": "monotone", "color": "#111", "strokeWidth": 4, "strokeDash": [12, 7]}},
      {"transform": [{"filter": "datum.s == 'pdot_em'"}],
       "mark": {"type": "line", "interpolate": "monotone", "color": "#29286e", "strokeWidth": 3}},
      {"transform": [{"filter": "datum.s == 'nir_em' || datum.s == 'doped_em'"}],
       "mark": {"type": "line", "interpolate": "monotone", "color": "#ee2b2b", "strokeWidth": 3}},
      {"transform": [{"filter": "datum.s == 'bracket'"}],
       "mark": {"type": "rule", "color": "#111", "strokeWidth": 1.3},
       "encoding": {"x2": {"field": "wl2"}, "y2": {"field": "v2"}}},
      {"transform": [{"filter": "datum.s == 'text'"}],
       "mark": {"type": "text", "font": "Liberation Serif", "fontSize": 17, "color": "#222", "align": "center", "baseline": "middle"},
       "encoding": {"text": {"field": "label", "type": "nominal"}}}
    ]
  }
}
